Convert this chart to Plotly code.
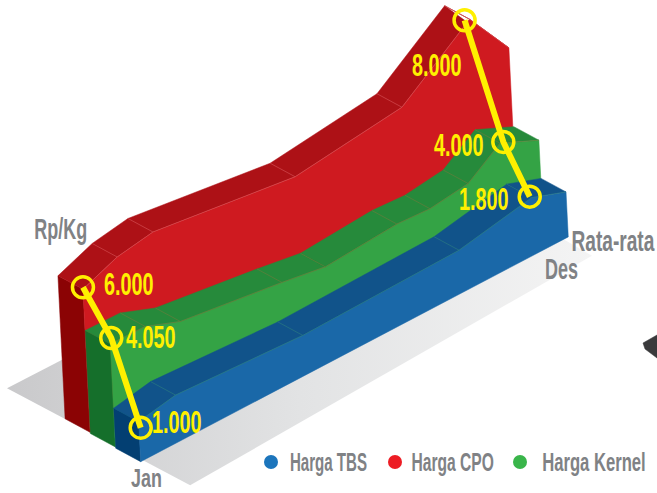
import json
import numpy as np
import plotly.graph_objects as go

# --- data -----------------------------------------------------------------
MONTH_LABELS = ["Jan", "Des"]
TBS_T = [0, 0.96, 4.23, 8.26, 10.15, 11.02]
TBS_V = [1000, 1330, 1000, 1140, 1800, 1235]
KERNEL_T = [0, 0.9, 1.79, 4.39, 5.5, 7.35, 8.2, 9.19, 10.04, 11.02]
KERNEL_V = [4050, 4040, 3476, 2743, 2376, 2638, 2533, 2795, 4000, 3110]
CPO_T = [0, 0.9, 1.83, 5.47, 8.24, 10.05, 11]
CPO_V = [6000, 6430, 6615, 6030, 6430, 8000, 6525]
# highlighted Jan / Nov values
JAN_LABELS = [("CPO", 6000), ("Kernel", 4050), ("TBS", 1000)]
NOV_LABELS = [("CPO", 8000), ("Kernel", 4000), ("TBS", 1800)]
FLOOR_T = [-0.10, 0.12, 10.9, 10.9]
FLOOR_D = [5.13, -1.77, -1.12, 5.0]

# --- projection (oblique view of month / depth / value) ---------------------
ORIGIN = np.array([140.7, 461.7])
MONTH_VEC = np.array([38.8, -20.4])
LAYER_VEC = np.array([-25.3, -14.7])
DEPTH_VEC = np.array([-25.0, -13.5])
LEAN = -0.05
VALUE_BREAKS = [0, 1000, 1800, 4000, 4050, 6000, 8000]
VALUE_HEIGHT = [0, 40, 57, 99, 103, 143, 208]


def project(t, v, layer, depth=0.0):
    h = np.interp(v, VALUE_BREAKS, VALUE_HEIGHT)
    p = ORIGIN + np.outer(t, MONTH_VEC) + layer * LAYER_VEC + depth * DEPTH_VEC
    return p[:, 0] + LEAN * h, p[:, 1] - h


SERIES = {
    "CPO": dict(t=CPO_T, v=CPO_V, layer=2, front="#CF1A20", top="#AD1116", side="#8B0304", seam="#D9575B"),
    "Kernel": dict(t=KERNEL_T, v=KERNEL_V, layer=1, front="#34A345", top="#268A3B", side="#156F2B", seam="#6E7A3C"),
    "TBS": dict(t=TBS_T, v=TBS_V, layer=0, front="#1A68A8", top="#11538A", side="#033F72", seam="#2F7F7F"),
}

fig = go.Figure()
ann_scale = []


def label(x, y, text, size, color, scale):
    fig.add_annotation(x=x, y=y, text=text, showarrow=False, xanchor="center", yanchor="middle",
                       font=dict(family="Liberation Sans", size=size, color=color, weight="bold"))
    ann_scale.append(scale)


def poly(xs, ys, color, line=None):
    fig.add_trace(go.Scatter(x=list(xs), y=list(ys), mode="lines", fill="toself", fillcolor=color,
                             line=dict(width=0.5, color=line or color), hoverinfo="skip", showlegend=False))


# floor
fx = ORIGIN[0] + np.array(FLOOR_T) * MONTH_VEC[0] + np.array(FLOOR_D) * LAYER_VEC[0]
fy = ORIGIN[1] + np.array(FLOOR_T) * MONTH_VEC[1] + np.array(FLOOR_D) * LAYER_VEC[1]
fig.add_trace(go.Scatter(x=list(fx) + [fx[0]], y=list(fy) + [fy[0]], mode="lines", fill="toself",
                         line=dict(width=0, color="rgba(0,0,0,0)"),
                         fillgradient=dict(type="horizontal", colorscale=[[0, "#C9C9CB"], [0.5, "#E2E3E4"], [1, "#F4F4F4"]]),
                         hoverinfo="skip", showlegend=False))

for name, s in SERIES.items():
    t = np.array(s["t"], float)
    v = np.array(s["v"], float)
    fx_, fy_ = project(t, v, s["layer"], 0)
    bx_, by_ = project(t, v, s["layer"], 1)
    gx, gy = project(t, 0 * v, s["layer"], 0)
    # left end wall
    gbx, gby = project(t[:1], v[:1] * 0, s["layer"], 1)
    poly([bx_[0], fx_[0], gx[0], gbx[0], bx_[0]], [by_[0], fy_[0], gy[0], gby[0], by_[0]], s["side"])
    # top faces
    qx, qy = [], []
    for i in range(len(t) - 1):
        qx += [bx_[i], bx_[i + 1], fx_[i + 1], fx_[i], bx_[i], None]
        qy += [by_[i], by_[i + 1], fy_[i + 1], fy_[i], by_[i], None]
    poly(qx, qy, s["top"])
    # front face
    poly(list(fx_) + [gx[-1], gx[0], fx_[0]], list(fy_) + [gy[-1], gy[0], fy_[0]], s["front"])
    # seams
    sx, sy = list(fx_) + [None], list(fy_) + [None]
    for i in range(1, len(t) - 1):
        sx += [bx_[i], fx_[i], None]
        sy += [by_[i], fy_[i], None]
    fig.add_trace(go.Scatter(x=sx, y=sy, mode="lines", line=dict(width=0.6, color=s["seam"]),
                             hoverinfo="skip", showlegend=False))

# decoration at the right edge
DARK_X = [643, 657, 657, 645, 643]
DARK_Y = [343, 335, 358, 349, 343]
poly(DARK_X, DARK_Y, "#3A3A3C")

YELLOW = "#FFF000"
GREY = "#808285"


def highlight(items, month, offsets, label_offsets):
    xs, ys = [], []
    for (name, val), off, lo in zip(items, offsets, label_offsets):
        s = SERIES[name]
        x, y = project(np.array([month]), np.array([val], float), s["layer"], 0)
        cx, cy = x[0] + off[0], y[0] + off[1]
        xs.append(cx)
        ys.append(cy)
        label(cx + lo[0], cy + lo[1], f"{val:,}".replace(",", "."), 31, YELLOW, 0.64)
    fig.add_trace(go.Scatter(x=xs, y=ys, mode="lines+markers", line=dict(color=YELLOW, width=6),
                             marker=dict(size=21, color="rgba(0,0,0,0)", line=dict(color=YELLOW, width=3.5)),
                             hoverinfo="skip", showlegend=False))


highlight(JAN_LABELS, 0.0, [(0, -2), (1, -6), (2, 6)], [(46, -3), (40, -1), (36.5, -5)])
highlight(NOV_LABELS, 10.1, [(-7, 2), (1, 0), (0, -2)], [(-28, 45), (-44.5, 4), (-46, 3)])

# axis-style labels
for txt, x, y, size, k in [("Rp/Kg", 60.5, 229, 29, 0.62), (MONTH_LABELS[0], 146, 477.5, 26, 0.69),
                           (MONTH_LABELS[1], 561.5, 269, 29, 0.62), ("Rata-rata", 613.5, 241, 29, 0.66)]:
    label(x, y, txt, size, GREY, k)

# legend
LEGEND_NAMES = ["Harga TBS", "Harga CPO", "Harga Kernel"]
LEGEND_COLORS = ["#1C75BC", "#ED1C24", "#39B54A"]
LEGEND_DOT_X = [271, 395, 520]
LEGEND_TEXT_CX = [328, 452.5, 593.5]
LEGEND_SCALE = [0.58, 0.60, 0.64]
fig.add_trace(go.Scatter(x=LEGEND_DOT_X, y=[462] * 3, mode="markers", hoverinfo="skip", showlegend=False,
                         marker=dict(size=14, color=LEGEND_COLORS)))
for n, x, k in zip(LEGEND_NAMES, LEGEND_TEXT_CX, LEGEND_SCALE):
    label(x, 462, n, 26, GREY, k)

fig.update_layout(width=657, height=493, margin=dict(l=0, r=0, t=0, b=0), showlegend=False,
                  paper_bgcolor="white", plot_bgcolor="white",
                  xaxis=dict(range=[0, 657], visible=False, fixedrange=True),
                  yaxis=dict(range=[493, 0], visible=False, fixedrange=True))

POST = """
document.body.style.margin = '0';
var scales = %s;
scales.forEach(function (k, i) {
  var t = document.querySelector('g.annotation[data-index="' + i + '"] text');
  if (!t) return;
  t.style.transformBox = 'fill-box';
  t.style.transformOrigin = 'center';
  t.style.transform = 'scaleX(' + k + ')';
});
""" % json.dumps(ann_scale)
fig.write_html("out.html", config={"displayModeBar": False}, post_script=POST)
